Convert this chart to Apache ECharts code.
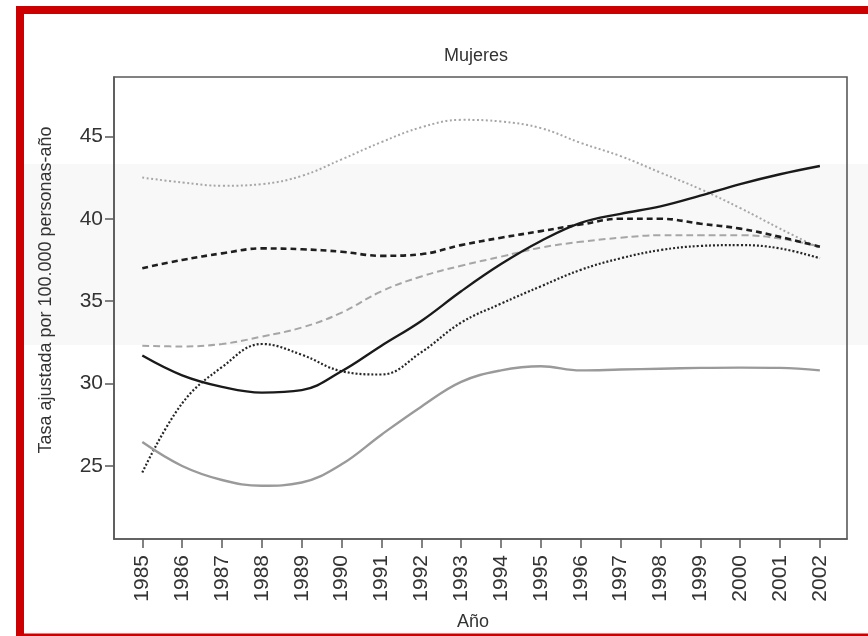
<!DOCTYPE html>
<html>
<head>
<meta charset="utf-8">
<script src="https://cdn.jsdelivr.net/npm/echarts@6/dist/echarts.min.js"></script>
<style>
  html, body { margin: 0; padding: 0; background: #ffffff; }
  #chart { width: 868px; height: 636px; }
</style>
</head>
<body>
<div id="chart"></div>
<script>
// Años del eje x y marcas del eje y
const years = [1985, 1986, 1987, 1988, 1989, 1990, 1991, 1992, 1993, 1994,
               1995, 1996, 1997, 1998, 1999, 2000, 2001, 2002];
const yTicks = [25, 30, 35, 40, 45];

// Tasas ajustadas (por 100.000 personas-año), una serie por trazo
const solidBlack  = [31.7, 30.5, 29.8, 29.45, 29.6, 30.75, 32.3, 33.8, 35.6, 37.25,
                     38.65, 39.75, 40.3, 40.75, 41.4, 42.1, 42.7, 43.2];
const solidGray   = [26.45, 25.0, 24.15, 23.8, 24.0, 25.1, 26.9, 28.6, 30.1, 30.8,
                     31.05, 30.8, 30.85, 30.9, 30.95, 30.97, 30.95, 30.8];
const dashedBlack = [37.0, 37.5, 37.9, 38.2, 38.15, 38.0, 37.75, 37.85, 38.4, 38.85,
                     39.25, 39.65, 40.0, 40.0, 39.7, 39.4, 38.9, 38.3];
const dashedGray  = [32.3, 32.25, 32.4, 32.85, 33.4, 34.3, 35.6, 36.5, 37.15, 37.7,
                     38.25, 38.6, 38.85, 39.0, 39.0, 39.0, 38.8, 38.3];
const dottedBlack = [24.6, 28.8, 31.0, 32.4, 31.75, 30.75, 30.55, 31.9, 33.7, 34.85,
                     35.9, 36.9, 37.6, 38.1, 38.35, 38.4, 38.2, 37.6];
const dottedGray  = [42.5, 42.2, 42.0, 42.1, 42.6, 43.6, 44.65, 45.55, 46.0, 45.9,
                     45.5, 44.6, 43.8, 42.8, 41.8, 40.65, 39.4, 38.2];

const pairs = arr => years.map((y, i) => [y, arr[i]]);

const FONT = '"Liberation Sans", Arial, sans-serif';
const AXIS_COLOR = '#5a5a5a';
const TEXT_COLOR = '#333333';
const RED = '#cc0000';

function lineSeries(data, color, width, type) {
  return {
    type: 'line',
    data: pairs(data),
    smooth: 0.4,
    showSymbol: false,
    symbol: 'none',
    lineStyle: { color: color, width: width, type: type, cap: 'butt' },
    emphasis: { disabled: true },
    silent: true
  };
}

const chart = echarts.init(document.getElementById('chart'), null, { renderer: 'canvas' });

chart.setOption({
  backgroundColor: '#ffffff',
  animation: false,
  grid: {
    left: 114, right: 21, top: 77, bottom: 97,
    show: true,
    borderColor: AXIS_COLOR,
    borderWidth: 1.6,
    backgroundColor: 'transparent'
  },
  xAxis: {
    type: 'value',
    min: 1984.29,
    max: 2002.68,
    splitLine: { show: false },
    axisLine: { show: true, lineStyle: { color: AXIS_COLOR, width: 1.6 } },
    axisTick: {
      show: true, length: 9, inside: false, customValues: years,
      lineStyle: { color: AXIS_COLOR, width: 1.5 }
    },
    axisLabel: {
      customValues: years,
      rotate: 90,
      margin: 16,
      fontSize: 21,
      fontFamily: FONT,
      color: TEXT_COLOR,
      formatter: v => String(Math.round(v))
    }
  },
  yAxis: {
    type: 'value',
    min: 20.57,
    max: 48.6,
    splitLine: { show: false },
    axisLine: { show: true, lineStyle: { color: AXIS_COLOR, width: 1.6 } },
    axisTick: {
      show: true, length: 9, inside: false, customValues: yTicks,
      lineStyle: { color: AXIS_COLOR, width: 1.5 }
    },
    axisLabel: {
      customValues: yTicks,
      margin: 11,
      fontSize: 21,
      fontFamily: FONT,
      color: TEXT_COLOR,
      formatter: v => String(Math.round(v))
    }
  },
  graphic: [
    // banda gris tenue de fondo
    { type: 'rect', z: -10, silent: true,
      shape: { x: 24, y: 164, width: 844, height: 181 },
      style: { fill: '#f8f8f8' } },
    // marco rojo
    { type: 'rect', z: 100, silent: true,
      shape: { x: 16, y: 6, width: 852, height: 8 }, style: { fill: RED } },
    { type: 'rect', z: 100, silent: true,
      shape: { x: 16, y: 6, width: 8, height: 630 }, style: { fill: RED } },
    { type: 'rect', z: 100, silent: true,
      shape: { x: 16, y: 633.5, width: 852, height: 2.5 }, style: { fill: RED } },
    // título
    { type: 'text', silent: true, x: 476, y: 56,
      style: { text: 'Mujeres', fontSize: 18, fontFamily: FONT, fill: TEXT_COLOR,
               textAlign: 'center', textVerticalAlign: 'middle' } },
    // nombre del eje y
    { type: 'text', silent: true, x: 46, y: 290, rotation: Math.PI / 2,
      style: { text: 'Tasa ajustada por 100.000 personas-año', fontSize: 18,
               fontFamily: FONT, fill: TEXT_COLOR,
               textAlign: 'center', textVerticalAlign: 'middle' } },
    // nombre del eje x
    { type: 'text', silent: true, x: 473, y: 622,
      style: { text: 'Año', fontSize: 18, fontFamily: FONT, fill: TEXT_COLOR,
               textAlign: 'center', textVerticalAlign: 'middle' } }
  ],
  series: [
    lineSeries(dottedGray,  '#a6a6a6', 2.0, [2, 2.5]),
    lineSeries(dashedGray,  '#a6a6a6', 2.0, [7, 4]),
    lineSeries(dashedBlack, '#1e1e1e', 2.6, [6, 4]),
    lineSeries(dottedBlack, '#262626', 2.2, [2, 2]),
    lineSeries(solidGray,   '#9a9a9a', 2.4, 'solid'),
    lineSeries(solidBlack,  '#1a1a1a', 2.4, 'solid')
  ]
});
</script>
</body>
</html>
